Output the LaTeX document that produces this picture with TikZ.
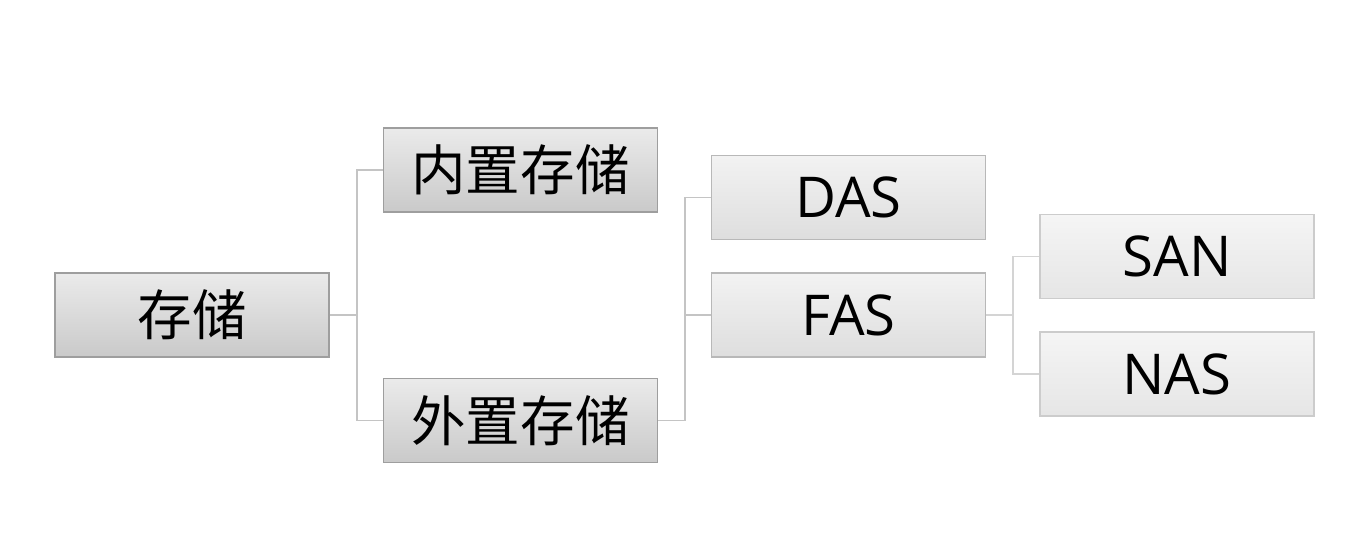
\documentclass[tikz,border=0pt]{standalone}
\usepackage{fontspec}
\setmainfont{Open Sans}
\newfontfamily\cjk{Noto Sans CJK SC}
\definecolor{lineA}{HTML}{C4C4C4}
\definecolor{lineB}{HTML}{D4D4D4}
\tikzset{
  box/.style={rectangle, minimum width=2.74cm, minimum height=0.84cm, inner sep=0pt,
    font=\fontsize{16}{18}\selectfont, text=black, line width=0.45pt},
  cjkbox/.style={font=\cjk\fontsize{15.5}{18}\selectfont},
  lvA/.style={box, draw=black!38, top color=black!8, bottom color=black!21},
  lvB/.style={box, draw=black!28, top color=black!5, bottom color=black!13},
  lvC/.style={box, draw=black!20, top color=black!4, bottom color=black!10},
  conA/.style={draw=lineA, line width=0.5pt},
  conB/.style={draw=lineB, line width=0.5pt},
}
\begin{document}
\begin{tikzpicture}[x=0.01cm,y=-0.01cm]
\useasboundingbox (0,0) rectangle (1358,548);
\node[lvA, cjkbox] (root) at (192,315) {存储};
\node[lvA, cjkbox] (nei) at (520.5,170) {内置存储};
\node[lvA, cjkbox] (wai) at (520.5,420.5) {外置存储};
\node[lvB] (das) at (848.5,197.5) {DAS};
\node[lvB] (fas) at (848.5,315) {FAS};
\node[lvC] (san) at (1177,256.5) {SAN};
\node[lvC] (nas) at (1177,374) {NAS};
\coordinate (j1) at (357,315);
\coordinate (j2) at (685,420.5);
\coordinate (j3) at (1013,315);
\draw[conA] (root.east) -- (j1) |- (nei.west);
\draw[conA] (j1) |- (wai.west);
\draw[conA] (wai.east) -- (j2) |- (das.west);
\draw[conA] (j2 |- fas.west) -- (fas.west);
\draw[conB] (fas.east) -- (j3) |- (san.west);
\draw[conB] (j3) |- (nas.west);
\end{tikzpicture}
\end{document}
